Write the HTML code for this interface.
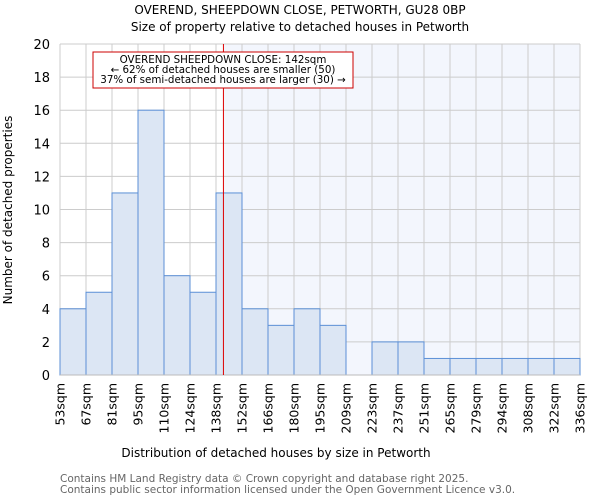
<!DOCTYPE html>
<html><head><meta charset="utf-8"><style>body{margin:0;background:#fff}svg{display:block;font-family:"DejaVu Sans","Liberation Sans",sans-serif}</style></head>
<body>
<svg id="c" width="600" height="500">
<text x="300" y="14" text-anchor="middle" font-size="12">OVEREND, SHEEPDOWN CLOSE, PETWORTH, GU28 0BP</text>
<text x="300" y="31" text-anchor="middle" font-size="12">Size of property relative to detached houses in Petworth</text>
<g id="plot"></g>
<text x="276" y="457" text-anchor="middle" font-size="12">Distribution of detached houses by size in Petworth</text>
<text transform="translate(12,210) rotate(-90)" text-anchor="middle" font-size="12">Number of detached properties</text>
<text x="60" y="482" font-size="10.5" fill="#666">Contains HM Land Registry data © Crown copyright and database right 2025.</text>
<text x="60" y="493" font-size="10.5" fill="#666">Contains public sector information licensed under the Open Government Licence v3.0.</text>
</svg>
<script>
const categories=["53sqm","67sqm","81sqm","95sqm","110sqm","124sqm","138sqm","152sqm","166sqm","180sqm","195sqm","209sqm","223sqm","237sqm","251sqm","265sqm","279sqm","294sqm","308sqm","322sqm","336sqm"];
const counts=[4,5,11,16,6,5,11,4,3,4,3,0,2,2,1,1,1,1,1,1];
const yTicks=[0,2,4,6,8,10,12,14,16,18,20];
const markerIndex=6+4/14;
const ns="http://www.w3.org/2000/svg";
const g=document.getElementById('plot');
const X0=60,X1=580,Y0=375,Y1=44;
const bw=(X1-X0)/counts.length;
const xs=i=>X0+i*bw;
const ys=v=>Y0-(v/20)*(Y0-Y1);
function mk(t,a){const e=document.createElementNS(ns,t);for(const k in a)e.setAttribute(k,a[k]);g.appendChild(e);return e;}
let e;
e=mk('rect',{x:xs(markerIndex),y:Y1,width:X1-xs(markerIndex),height:Y0-Y1,fill:'#f3f6fd'});


yTicks.forEach(t=>{
 e=mk('line',{x1:X0,x2:X1,y1:ys(t),y2:ys(t),stroke:'#ccc'});
 
 
 e=mk('text',{x:X0-10,y:ys(t)+5,'text-anchor':'end','font-size':13});e.textContent=t;
 
 
});
categories.forEach((c,i)=>{
 e=mk('line',{x1:xs(i),x2:xs(i),y1:Y1,y2:Y0,stroke:'#ccc'});
 
 
 e=mk('text',{transform:`translate(${xs(i)+4.5},383) rotate(-90)`,'text-anchor':'end','font-size':12.5});e.textContent=c;
 
 
});
counts.forEach((v,i)=>{
 if(v<=0)return;
 e=mk('rect',{x:xs(i),y:ys(v),width:bw,height:Y0-ys(v),fill:'#dce6f4',stroke:'#5b8fd6','stroke-width':1});
 
 
});
e=mk('line',{x1:X0,x2:X1,y1:Y0,y2:Y0,stroke:'#bbb'});


e=mk('line',{x1:xs(markerIndex),x2:xs(markerIndex),y1:Y1,y2:Y0,stroke:'#dd0000','stroke-width':1});


e=mk('rect',{x:93,y:52,width:260,height:36,fill:'#fff',stroke:'#cc0000'});


["OVEREND SHEEPDOWN CLOSE: 142sqm","← 62% of detached houses are smaller (50)","37% of semi-detached houses are larger (30) →"].forEach((s,k)=>{
 e=mk('text',{x:223,y:63+k*10,'text-anchor':'middle','font-size':10.3});e.textContent=s;
 
 
});
</script>
</body></html>
